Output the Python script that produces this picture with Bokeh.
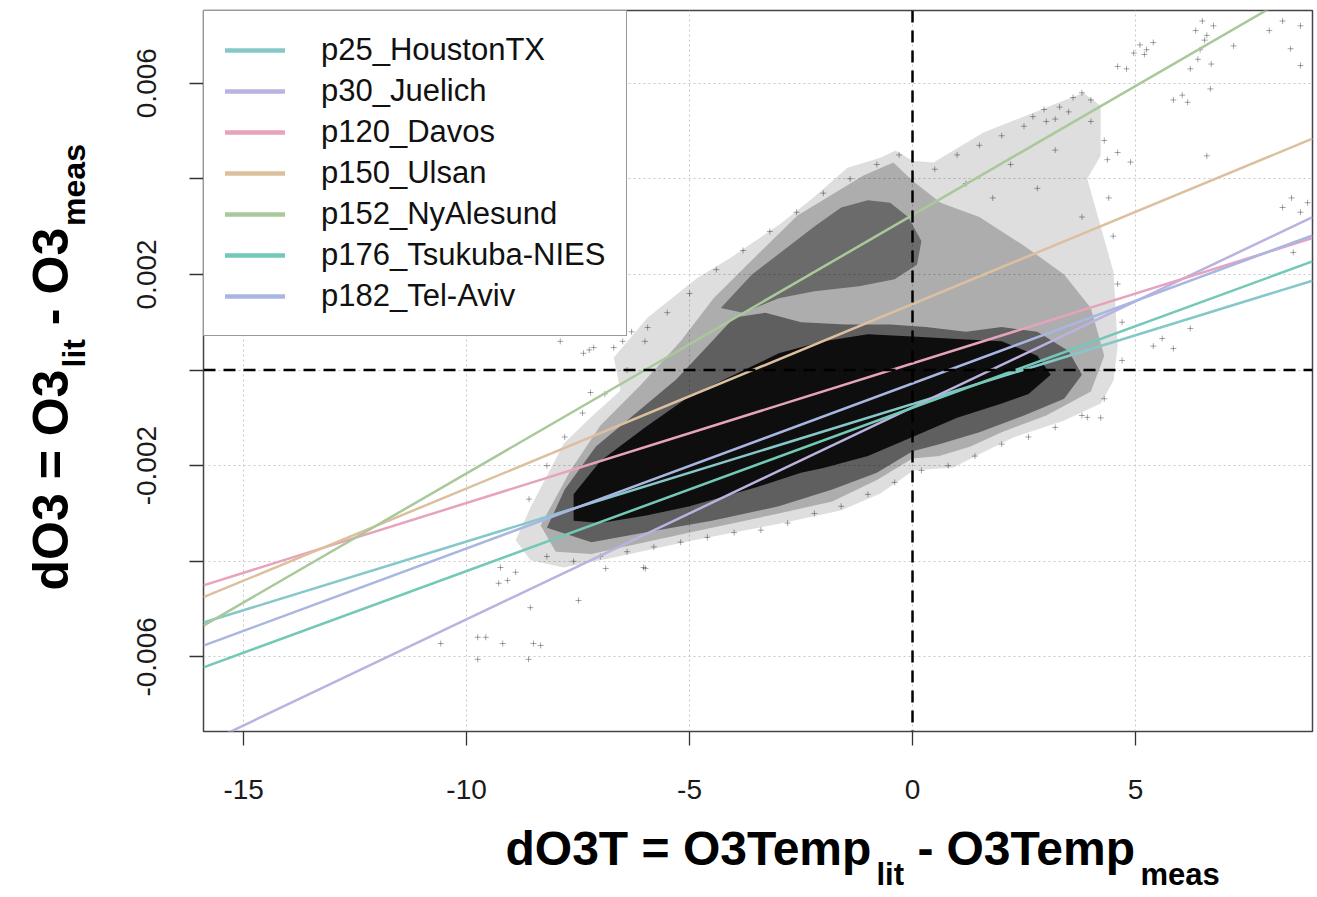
import numpy as np
from bokeh.plotting import figure
from bokeh.layouts import row, column
from bokeh.models import Span, Label, FixedTicker, Legend, LegendItem, Range1d
from bokeh.embed import file_html
from bokeh.resources import INLINE

# ---------------- data ----------------
stations = ["p25_HoustonTX", "p30_Juelich", "p120_Davos", "p150_Ulsan",
            "p152_NyAlesund", "p176_Tsukuba-NIES", "p182_Tel-Aviv"]
intercepts = [-0.00071, -0.00078, 0.00014, 0.00138, 0.00324, -0.00079, -0.00028]
slopes = [0.0002875, 0.0004435, 0.000292, 0.0003856, 0.00054, 0.0003414, 0.000345]
colors = ["#86c8c9", "#bab2e0", "#e7a3bd", "#dcc09e", "#a9c99a", "#72c9b6", "#a9b6e1"]

x_ticks = [-15, -10, -5, 0, 5]
x_tick_labels = ["-15", "-10", "-5", "0", "5"]
y_ticks = [-0.006, -0.004, -0.002, 0.0, 0.002, 0.004, 0.006]
y_tick_labels = ["-0.006", "", "-0.002", "", "0.002", "", "0.006"]
x_limits = [-15.9, 8.97]
y_limits = [-0.00756, 0.00752]

# point-cloud density outlines (x in K, y in 1e-3)
sparse_x = [-8.90, -8.565, -7.825, -7.22, -6.55, -6.70, -5.94, -4.82, -4.08, -2.96, -2.22, -1.46,
            -0.72, -0.38, 0.0, 0.47, 1.59, 2.71, 3.83, 4.22, 4.22, 3.92, 4.51, 4.60, 4.51, 4.22,
            3.39, 2.26, 1.52, 0.92, 0.02, -0.72, -1.61, -2.96, -4.91, -6.70, -7.825, -8.565]
sparse_y = [-3.56, -2.87, -1.54, -0.99, -0.43, 0.26, 1.10, 1.93, 2.35, 3.06, 3.61, 4.23,
            4.44, 4.59, 4.38, 4.34, 4.97, 5.38, 5.80, 5.53, 4.48, 4.00, 2.04, 0.50, -0.22, -0.70,
            -1.06, -1.41, -1.75, -2.04, -2.10, -2.58, -2.94, -3.21, -3.56, -3.92, -4.13, -3.98]
medium_x = [-8.34, -7.67, -7.00, -6.10, -5.20, -4.46, -3.70, -2.58, -1.84, -1.10, -0.43, 0.0,
            0.63, 1.5, 2.5, 3.4, 4.0, 4.3, 4.0, 3.0, 2.0, 1.3, 0.6, 0.0, -0.8, -1.8, -3.0,
            -4.5, -6.0, -7.2, -8.0]
medium_y = [-3.25, -2.10, -1.16, -0.32, 0.6, 1.50, 2.21, 3.23, 3.65, 4.07, 4.34, 3.96,
            3.5, 3.2, 2.6, 2.0, 1.3, 0.3, -0.45, -0.95, -1.3, -1.6, -1.8, -1.85, -2.3, -2.75, -3.0,
            -3.3, -3.6, -3.85, -3.8]
band_x = [-8.2, -7.8, -7.1, -6.2, -5.3, -4.6, -4.0, -3.3, -2.5, -1.5, -0.5, 0.3, 1.2, 2.0, 2.8,
          3.5, 3.8, 3.4, 2.5, 1.5, 0.6, 0.0, -0.8, -1.8, -3.0, -4.5, -6.0, -7.2]
band_y = [-3.3, -2.5, -1.6, -0.9, -0.2, 0.5, 1.1, 1.2, 1.0, 0.95, 0.95, 0.9, 0.8, 0.9, 0.8,
          0.4, -0.1, -0.6, -0.95, -1.3, -1.55, -1.7, -2.15, -2.5, -2.85, -3.15, -3.4, -3.6]
upper_x = [-4.3, -3.6, -2.9, -2.2, -1.6, -1.0, -0.5, -0.1, 0.2, 0.1, -0.4, -1.2, -2.2, -3.0, -3.8]
upper_y = [1.3, 2.0, 2.5, 3.0, 3.4, 3.55, 3.5, 3.2, 2.7, 2.2, 1.9, 1.75, 1.65, 1.5, 1.2]
core_x = [-7.6, -7.0, -6.0, -5.0, -4.0, -3.0, -2.0, -1.0, 0.0, 1.0, 2.0, 2.8, 3.1, 2.6, 2.0,
          1.0, 0.0, -1.0, -2.0, -2.5, -3.5, -5.0, -6.0, -7.0, -7.6]
core_y = [-2.6, -1.9, -1.2, -0.55, -0.1, 0.35, 0.6, 0.75, 0.7, 0.65, 0.6, 0.3, -0.1, -0.5, -0.7,
          -1.0, -1.4, -1.8, -2.05, -2.15, -2.45, -2.85, -3.05, -3.2, -3.15]

# individual outlying points (x in K, y in 1e-3)
pts_x = [4.96, 5.1, 5.25, 5.4, 5.2, 6.23, 6.4, 6.55, 6.7, 6.35, 6.5, 6.6, 6.75, 6.45,
         8.0, 8.3, 8.7, 8.48, 8.70, 4.6, 4.8, 3.6, 3.8, 4.0, 2.7, 2.95, 3.2, 3.3,
         5.85, 6.05, 6.17, 6.68, 4.37, 4.6, 4.89, 8.3, 8.5, 8.7, 8.86, 8.54,
         6.23, 5.4, 5.6, 5.85, 6.6, 7.2, 3.92, 4.22,
         -10.58, -9.75, -9.57, -9.19, -8.57, -8.50, -8.34, -8.61, -7.49, -9.28, -9.08, -9.75,
         -9.24, -8.9, -6.88, -5.99, -6.03, -7.22,
         -7.38, -7.15, -7.25, -7.9, -6.7, -6.3, -5.94, -6.5]
pts_y = [6.63, 6.8, 6.7, 6.85, 6.6, 6.3, 6.5, 6.9, 6.4, 7.1, 7.3, 7.0, 7.2, 6.7,
         7.1, 7.3, 7.2, 6.72, 6.37, 6.35, 6.3, 5.7, 5.8, 5.65, 5.3, 5.45, 5.25, 5.5,
         5.65, 5.75, 5.6, 5.88, 4.4, 4.55, 4.35, 3.4, 3.6, 3.3, 3.5, 2.46,
         0.87, 0.5, 0.66, 0.45, 4.48, 6.78, -0.99, -1.0,
         -5.72, -5.59, -5.59, -5.72, -4.97, -5.72, -5.76, -6.05, -4.82, -4.46, -4.40, -6.05,
         -4.13, -4.23, -4.15, -4.15, -4.13, -0.47,
         0.35, 0.47, 0.42, 0.6, 0.47, 0.8, 0.89, 0.6]

# points along the thin fringe of the cloud (x in K, y in 1e-3)
fringe_x = [-8.2, -7.6, -7.0, -6.4, -5.8, -5.2, -4.6, -4.0, -3.4, -2.8, -2.2, -1.6, -1.0, -0.4,
            0.2, 0.8, 1.4, 2.0, 2.6, 3.2, 3.8, 4.3,
            -8.6, -8.2, -7.8, -7.4, -6.9, -6.4, -6.0, -5.5, -5.0, -4.4, -3.8, -3.2, -2.6, -2.0,
            -1.4, -0.8, -0.3,
            0.5, 1.0, 1.5, 2.0, 2.5, 3.0, 3.5, 4.0, 4.3, 4.4, 4.5, 4.6, 4.7, 4.7, 1.2, 2.2, 3.2,
            2.8, 3.8, 1.8]
fringe_y = [-3.9, -4.0, -3.9, -3.8, -3.7, -3.6, -3.5, -3.4, -3.35, -3.2, -3.0, -2.85, -2.6, -2.35,
            -2.1, -2.0, -1.8, -1.55, -1.4, -1.2, -0.95, -0.6,
            -2.7, -2.0, -1.4, -0.9, -0.5, 0.0, 0.6, 1.2, 1.6, 2.1, 2.5, 2.9, 3.3, 3.7,
            4.0, 4.3, 4.5,
            4.2, 4.5, 4.7, 4.9, 5.1, 5.2, 5.4, 5.2, 4.8, 3.6, 2.8, 1.8, 1.0, 0.2, 3.9, 4.3, 4.6,
            3.8, 3.2, 3.6]

# ---------------- layout sizes ----------------
W, H = 1317, 897
LW = 110          # left strip with the y title
BH = 82           # bottom strip with the x title
MW, MH = W - LW, H - BH
FRAME_LEFT = 203

p = figure(width=MW, height=MH, output_backend="svg", toolbar_location=None,
           x_range=Range1d(*x_limits), y_range=Range1d(*y_limits),
           min_border_left=FRAME_LEFT - LW, min_border_right=5, min_border_top=10,
           min_border_bottom=MH - 731)
p.background_fill_color = "white"
p.border_fill_color = "white"
p.outline_line_color = "#444444"
p.outline_line_width = 1.5

MILLI = 1e-3
layers = [(sparse_x, sparse_y, 0.13), (medium_x, medium_y, 0.22),
          (band_x, band_y, 0.45), (upper_x, upper_y, 0.38), (core_x, core_y, 0.85)]
for lx, ly, a in layers:
    p.patch(lx, list(np.array(ly) * MILLI), fill_color="black", fill_alpha=a, line_color=None)

p.scatter(pts_x + fringe_x, list(np.array(pts_y + fringe_y) * MILLI), marker="cross", size=6,
          line_color="black", line_alpha=0.35, line_width=1)

# grid
p.xgrid.ticker = FixedTicker(ticks=x_ticks)
p.ygrid.ticker = FixedTicker(ticks=y_ticks)
for g in (p.xgrid, p.ygrid):
    g.grid_line_color = "#c8c8c8"
    g.grid_line_dash = "2 3"
    g.grid_line_width = 1

# regression lines
xs = np.array(x_limits)
for a, b, c in zip(intercepts, slopes, colors):
    p.line(xs, a + b * xs, line_color=c, line_width=2.5)

# zero lines
p.add_layout(Span(location=0, dimension="height", line_color="black", line_width=2.5, line_dash="12 8"))
p.add_layout(Span(location=0, dimension="width", line_color="black", line_width=2.5, line_dash="12 8"))

# axes
p.xaxis.ticker = FixedTicker(ticks=x_ticks)
p.xaxis.major_label_overrides = {t: l for t, l in zip(x_ticks, x_tick_labels)}
p.yaxis.ticker = FixedTicker(ticks=y_ticks)
p.yaxis.major_label_overrides = {t: l for t, l in zip(y_ticks, y_tick_labels)}
p.yaxis.major_label_orientation = "vertical"
for ax in (p.xaxis, p.yaxis):
    ax.axis_line_color = None
    ax.major_tick_out = 14
    ax.major_tick_in = 0
    ax.major_tick_line_color = "#333333"
    ax.major_tick_line_width = 1.3
    ax.minor_tick_line_color = None
    ax.major_label_text_font = "Liberation Sans"
    ax.major_label_text_font_size = "28px"
    ax.major_label_text_color = "#1a1a1a"
p.xaxis.major_label_standoff = 34
p.yaxis.major_label_standoff = 33

# legend (legend-only renderers, thicker sample lines)
items = []
for name, c in zip(stations, colors):
    r = p.line([np.nan], [np.nan], line_color=c, line_width=4.5, line_cap="round")
    items.append(LegendItem(label=name, renderers=[r]))
legend = Legend(items=items, location="top_left", margin=0, padding=21,
                glyph_width=60, glyph_height=34, label_height=34, spacing=5,
                label_standoff=36, label_text_font="Liberation Sans",
                label_text_font_size="31px", label_text_color="#111111",
                border_line_color="#333333", border_line_width=1.5,
                background_fill_color="white", background_fill_alpha=1.0)
p.add_layout(legend)

# ---------------- axis titles (separate strips) ----------------
TF = "Liberation Sans"
SHIFT = 0.32   # em offset between requested and drawn baseline

def strip(w, h):
    f = figure(width=w, height=h, output_backend="svg", toolbar_location=None,
               x_axis_location=None, y_axis_location=None, min_border=0,
               x_range=Range1d(0, 1), y_range=Range1d(0, 1))
    f.outline_line_color = None
    f.xgrid.visible = False
    f.ygrid.visible = False
    f.background_fill_color = "white"
    f.border_fill_color = "white"
    return f

def lab(f, txt, x, y, size, angle=0.0):
    f.add_layout(Label(x=x, y=y, x_units="screen", y_units="screen", text=txt,
                       text_font=TF, text_font_style="bold", text_font_size=f"{size}px",
                       text_color="black", angle=angle, text_baseline="alphabetic",
                       text_align="left"))

# x title: pieces at page positions (left edge, baseline)
XT, XS = 48, 31
fx = strip(MW, BH)
for txt, px, base, fs in [("dO3T = O3Temp", 505, 863.5, XT), ("lit", 876, 884, XS),
                          ("-", 917, 863.5, XT), ("O3Temp", 946, 863.5, XT),
                          ("meas", 1140, 884, XS)]:
    lab(fx, txt, px - FRAME_LEFT, H - base + SHIFT * fs, fs)

# y title (rotated): pieces at page positions (start y, baseline x)
YT, YS = 50, 32
fy = strip(LW, H)
A = np.pi / 2
for txt, py, base, fs in [("dO3 = O3", 590, 66.5, YT), ("lit", 367, 84, YS),
                          ("-", 324.7, 66.5, YT), ("O3", 294, 66.5, YT),
                          ("meas", 225.4, 84, YS)]:
    lab(fy, txt, base - SHIFT * fs, H - py, fs, A)

layout = row(fy, column(p, fx))
open("out.html", "w").write(file_html(layout, INLINE))
